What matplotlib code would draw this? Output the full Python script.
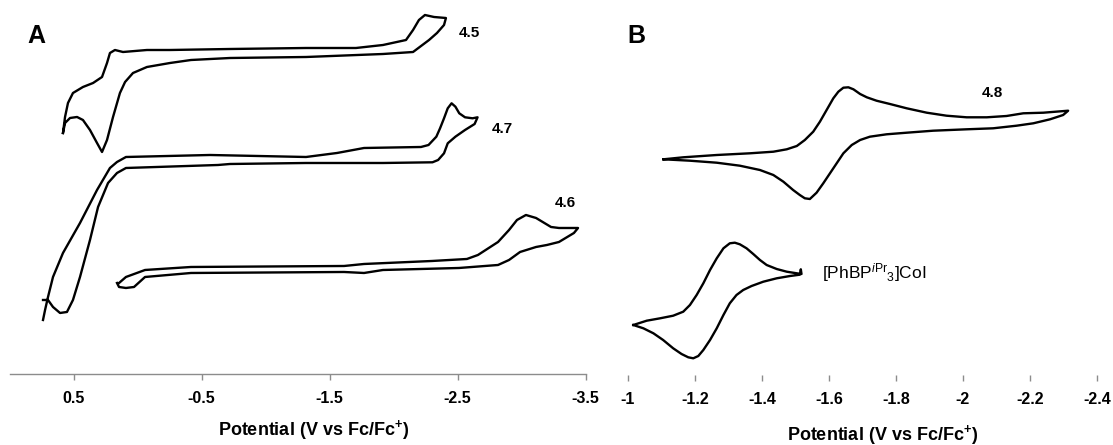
import matplotlib
matplotlib.use('Agg')
import matplotlib.pyplot as plt

plt.rcParams.update({
    'font.family': ['Liberation Sans', 'DejaVu Sans'],
    'axes.unicode_minus': False,
    'mathtext.fontset': 'custom',
    'mathtext.rm': 'Liberation Sans',
    'mathtext.it': 'Liberation Sans:italic',
    'mathtext.bf': 'Liberation Sans:bold',
})

########
# Data #
########

# panel A, potential (V vs Fc/Fc+) and current (arb. units, stacked offsets)
e_45 = [0.583, 0.567, 0.544, 0.505, 0.427, 0.348, 0.278, 0.239, 0.216, 0.177,
        0.114, -0.073, -0.253, -0.722, -1.316, -1.706, -1.917, -2.097, -2.152,
        -2.198, -2.245, -2.316, -2.409, -2.394, -2.339, -2.277, -2.152, -1.917,
        -1.316, -0.722, -0.417, -0.253, -0.073, 0.036, 0.098, 0.138, 0.192,
        0.239, 0.278, 0.317, 0.372, 0.427, 0.473, 0.528, 0.567, 0.583]
i_45 = [24.1, 25.7, 27.1, 28.1, 28.7, 29.1, 29.7, 31.1, 32.1, 32.4,
        32.2, 32.4, 32.4, 32.5, 32.6, 32.6, 32.9, 33.4, 34.4,
        35.4, 35.9, 35.7, 35.6, 34.9, 34.1, 33.4, 32.2, 32.0,
        31.7, 31.6, 31.4, 31.1, 30.7, 30.1, 29.2, 28.1, 25.7,
        23.4, 22.2, 23.1, 24.4, 25.4, 25.7, 25.6, 25.1, 24.1]

e_47 = [0.739, 0.723, 0.700, 0.661, 0.583, 0.450, 0.317, 0.216, 0.161, 0.091,
        -0.566, -1.316, -1.558, -1.769, -2.214, -2.273, -2.334, -2.363, -2.394,
        -2.423, -2.453, -2.483, -2.513, -2.558, -2.617, -2.656, -2.633, -2.558,
        -2.483, -2.423, -2.394, -2.348, -2.304, -1.917, -1.316, -0.722, -0.628,
        0.091, 0.161, 0.231, 0.309, 0.372, 0.450, 0.505, 0.552, 0.606, 0.661,
        0.700, 0.739]
i_47 = [5.4, 6.4, 7.7, 9.7, 12.1, 15.1, 18.4, 20.6, 21.2, 21.7,
        21.9, 21.7, 22.1, 22.6, 22.7, 22.9, 23.73, 24.57, 25.57,
        26.57, 27.07, 26.73, 26.07, 25.67, 25.57, 25.67, 25.0, 24.4,
        23.73, 23.07, 22.07, 21.4, 21.17, 21.1, 21.1, 21.0, 20.9,
        20.6, 20.1, 19.1, 16.7, 13.4, 9.7, 7.4, 6.2, 6.1, 6.7,
        7.4, 7.4]

e_46 = [0.145, 0.091, -0.058, -0.417, -1.613, -1.769, -2.300, -2.573, -2.659,
        -2.816, -2.902, -2.964, -3.034, -3.113, -3.230, -3.292, -3.441, -3.409,
        -3.292, -3.198, -3.113, -2.988, -2.902, -2.816, -2.511, -1.917, -1.769,
        -1.613, -0.417, -0.058, 0.028, 0.091, 0.145, 0.161]
i_46 = [9.1, 9.7, 10.4, 10.7, 10.8, 11.0, 11.3, 11.5, 11.9,
        13.2, 14.4, 15.4, 15.9, 15.6, 14.7, 14.6, 14.6, 14.1,
        13.2, 12.9, 12.7, 12.2, 11.4, 10.9, 10.6, 10.4, 10.1,
        10.2, 10.1, 9.7, 8.7, 8.6, 8.7, 9.1]

# panel B
e_48 = [-1.106, -1.165, -1.265, -1.364, -1.434, -1.474, -1.504, -1.528, -1.553,
        -1.573, -1.593, -1.613, -1.628, -1.643, -1.658, -1.673, -1.693, -1.713,
        -1.742, -1.782, -1.832, -1.892, -1.951, -2.011, -2.071, -2.130, -2.180,
        -2.240, -2.314, -2.299, -2.260, -2.210, -2.160, -2.090, -2.011, -1.911,
        -1.832, -1.772, -1.722, -1.693, -1.668, -1.643, -1.623, -1.603, -1.583,
        -1.563, -1.543, -1.528, -1.513, -1.493, -1.464, -1.434, -1.394, -1.334,
        -1.265, -1.185, -1.106]
i_48 = [21.57, 21.77, 22.0, 22.17, 22.33, 22.57, 22.9, 23.5, 24.33,
        25.33, 26.5, 27.67, 28.33, 28.73, 28.77, 28.57, 28.1, 27.77,
        27.43, 27.1, 26.67, 26.23, 25.93, 25.77, 25.77, 25.9, 26.17,
        26.23, 26.43, 26.0, 25.57, 25.17, 24.93, 24.67, 24.57, 24.43,
        24.23, 24.07, 23.83, 23.5, 23.0, 22.17, 21.17, 20.17, 19.17,
        18.23, 17.6, 17.67, 18.0, 18.5, 19.33, 20.0, 20.5, 20.93,
        21.23, 21.43, 21.57]

e_coi = [-1.016, -1.056, -1.096, -1.135, -1.165, -1.185, -1.205, -1.225, -1.245,
         -1.265, -1.285, -1.304, -1.319, -1.334, -1.354, -1.374, -1.394, -1.414,
         -1.444, -1.474, -1.504, -1.518, -1.516, -1.513, -1.484, -1.444, -1.404,
         -1.369, -1.344, -1.324, -1.304, -1.285, -1.265, -1.245, -1.225, -1.210,
         -1.195, -1.180, -1.160, -1.135, -1.105, -1.076, -1.046, -1.016]
i_coi = [5.0, 5.43, 5.67, 5.93, 6.33, 7.0, 8.0, 9.17, 10.5,
         11.67, 12.67, 13.17, 13.23, 13.07, 12.67, 12.1, 11.5, 11.0,
         10.6, 10.33, 10.17, 10.1, 10.57, 10.03, 9.9, 9.67, 9.33,
         8.9, 8.5, 8.0, 7.17, 6.0, 4.67, 3.5, 2.5, 1.9,
         1.67, 1.77, 2.1, 2.67, 3.5, 4.17, 4.67, 5.0]

ticks_a = [0.5, -0.5, -1.5, -2.5, -3.5]
ticklabels_a = ['0.5', '-0.5', '-1.5', '-2.5', '-3.5']
ticks_b = [-1.0, -1.2, -1.4, -1.6, -1.8, -2.0, -2.2, -2.4]
ticklabels_b = ['-1', '-1.2', '-1.4', '-1.6', '-1.8', '-2', '-2.2', '-2.4']

XLABEL = r'Potential (V vs Fc/Fc$^{\mathbf{+}}$)'
COI_LABEL = r'[PhBP$^{\mathit{i}\mathrm{Pr}}{}_{\mathrm{3}}$]CoI'


################
# Plot helpers #
################

def style_axis(ax, ticks, labels, spine=True):
    for side in ('top', 'left', 'right'):
        ax.spines[side].set_visible(False)
    ax.spines['bottom'].set_visible(spine)
    ax.spines['bottom'].set_color('#8c8c8c')
    ax.spines['bottom'].set_linewidth(1.0)
    ax.set_yticks([])
    ax.set_xticks(ticks)
    ax.set_xticklabels(labels, fontsize=11.5, fontweight='bold')
    ax.tick_params(axis='x', direction='out', length=4, width=1,
                   color='#8c8c8c', pad=8)
    ax.patch.set_visible(False)


def cv(ax, e, i):
    ax.plot(e, i, color='black', lw=1.7, solid_joinstyle='round')


fig = plt.figure(figsize=(11.13, 4.45), dpi=100)

# panel A
ax1 = fig.add_axes([0.00863, 0.1596, 0.5175, 0.8404])
cv(ax1, e_45, i_45)
cv(ax1, e_47, i_47)
cv(ax1, e_46, i_46)
ax1.set_xlim(1.0, -3.5)
ax1.set_ylim(0, 37.4)
style_axis(ax1, ticks_a, ticklabels_a)
ax1.set_xlabel(XLABEL, fontsize=13, fontweight='bold')
ax1.xaxis.set_label_coords(0.5285, -0.15)
ax1.xaxis.label.set_va('center')
ax1.text(-2.511, 33.7, '4.5', fontsize=11, fontweight='bold')
ax1.text(-2.769, 24.1, '4.7', fontsize=11, fontweight='bold')
ax1.text(-3.261, 16.7, '4.6', fontsize=11, fontweight='bold')

# panel B
ax2 = fig.add_axes([0.5642, 0.1573, 0.4214, 0.8427])
cv(ax2, e_48, i_48)
cv(ax2, e_coi, i_coi)
ax2.set_xlim(-1.0, -2.4)
ax2.set_ylim(0, 37.5)
style_axis(ax2, ticks_b, ticklabels_b, spine=False)
ax2.set_xlabel(XLABEL, fontsize=13, fontweight='bold')
ax2.xaxis.set_label_coords(0.5426, -0.16)
ax2.xaxis.label.set_va('center')
ax2.text(-2.057, 27.8, '4.8', fontsize=11, fontweight='bold')
ax2.text(-1.579, 9.7, COI_LABEL, fontsize=12.5)

fig.text(27 / 1113, 1 - 43 / 445, 'A', fontsize=18, fontweight='bold')
fig.text(627 / 1113, 1 - 43 / 445, 'B', fontsize=18, fontweight='bold')

fig.savefig('out.png', dpi=100)
